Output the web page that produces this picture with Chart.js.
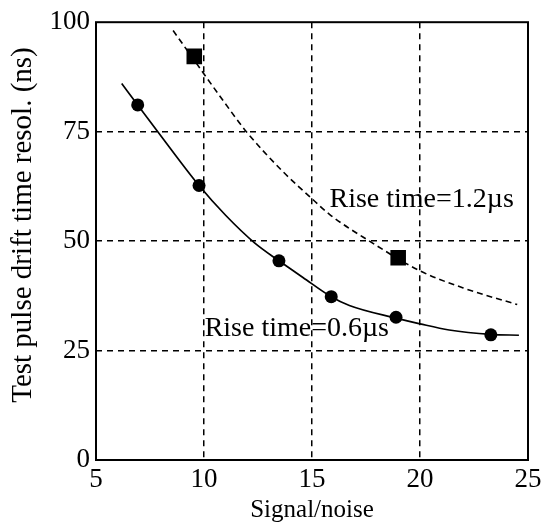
<!DOCTYPE html>
<html>
<head>
<meta charset="utf-8">
<script src="https://cdn.jsdelivr.net/npm/chart.js@4.4.0/dist/chart.umd.min.js"></script>
<style>
  html, body { margin: 0; padding: 0; background: #fff; }
  canvas { display: block; }
</style>
</head>
<body>
<canvas id="grafico" width="547" height="527"></canvas>
<script>
// medidas (S/N, resolução em ns)
const snCirculos = [6.93, 9.77, 13.47, 15.89, 18.89, 23.28];
const resCirculos = [81.1, 62.7, 45.5, 37.3, 32.6, 28.6];
const snQuadrados = [9.55, 18.99];
const resQuadrados = [92.2, 46.2];

// curvas ajustadas, lidas ponto a ponto
const snCurva06 = [6.19, 6.93, 7.86, 9.77, 11.0, 12.34, 13.47, 14.58, 15.89, 16.73, 18.89, 20.0, 21.35, 23.28, 24.58];
const resCurva06 = [86.0, 81.1, 75.0, 62.7, 55.9, 49.6, 45.5, 41.7, 37.3, 35.3, 32.4, 31.1, 29.7, 28.7, 28.5];
const snCurva12 = [8.57, 9.88, 10.9, 11.96, 13.65, 15.04, 15.81, 17.66, 20.0, 22.0, 24.5];
const resCurva12 = [98.1, 89.0, 82.0, 75.0, 65.9, 59.5, 56.1, 50.0, 43.2, 39.3, 35.5];

const ticksX = [5, 10, 15, 20, 25];
const ticksY = [0, 25, 50, 75, 100];

const rotulos = [
  { texto: "Rise time=1.2\u00b5s", x: 15.81, y: 57.9 },
  { texto: "Rise time=0.6\u00b5s", x: 10.03, y: 28.4 },
];
const tituloY = "Test pulse drift time resol. (ns)";

const pares = (xs, ys) => xs.map((x, i) => ({ x: x, y: ys[i] }));

const fonte = "'Liberation Serif', 'Times New Roman', serif";
Chart.defaults.font.family = fonte;
Chart.defaults.font.size = 27;
Chart.defaults.color = "#000";

// moldura, título do eixo y e textos dentro da área do gráfico
const moldura = {
  id: "moldura",
  afterDraw(chart) {
    const { ctx, chartArea: a, scales } = chart;
    ctx.save();
    ctx.strokeStyle = "#000";
    ctx.lineWidth = 2;
    ctx.strokeRect(a.left, a.top, a.right - a.left, a.bottom - a.top);
    ctx.fillStyle = "#000";
    ctx.font = "28px " + fonte;
    ctx.textBaseline = "alphabetic";
    ctx.textAlign = "left";
    rotulos.forEach((r) => {
      ctx.fillText(r.texto, scales.x.getPixelForValue(r.x), scales.y.getPixelForValue(r.y));
    });
    ctx.translate(23, 225);
    ctx.rotate(-Math.PI / 2);
    ctx.font = "29px " + fonte;
    ctx.textAlign = "center";
    ctx.textBaseline = "middle";
    ctx.fillText(tituloY, 0, 0);
    ctx.restore();
  },
};

const corGrade = (c) =>
  c.tick && (c.index === 0 || c.index === ticksX.length - 1) ? "rgba(0,0,0,0)" : "#000";

new Chart(document.getElementById("grafico"), {
  type: "scatter",
  data: {
    datasets: [
      {
        data: pares(snCurva06, resCurva06),
        showLine: true,
        borderColor: "#000",
        borderWidth: 1.7,
        pointRadius: 0,
        cubicInterpolationMode: "monotone",
      },
      {
        data: pares(snCurva12, resCurva12),
        showLine: true,
        borderColor: "#000",
        borderWidth: 1.6,
        borderDash: [6, 4],
        pointRadius: 0,
        cubicInterpolationMode: "monotone",
      },
      {
        data: pares(snCirculos, resCirculos),
        pointStyle: "circle",
        pointRadius: 6.5,
        backgroundColor: "#000",
        borderWidth: 0,
      },
      {
        data: pares(snQuadrados, resQuadrados),
        pointStyle: "rect",
        pointRadius: 11,
        backgroundColor: "#000",
        borderWidth: 0,
      },
    ],
  },
  options: {
    responsive: false,
    animation: false,
    layout: { padding: { top: 20, right: 19, left: 0, bottom: 0 } },
    plugins: { legend: { display: false }, tooltip: { enabled: false } },
    scales: {
      x: {
        min: 5,
        max: 25,
        afterFit: (s) => { s.height = 67; },
        afterBuildTicks: (s) => { s.ticks = ticksX.map((v) => ({ value: v })); },
        ticks: { padding: 4 },
        grid: { color: corGrade, lineWidth: 1.5, drawTicks: false },
        border: { display: false, dash: [6, 5] },
        title: { display: true, text: "Signal/noise", font: { size: 25 }, padding: { top: 0, bottom: 2 } },
      },
      y: {
        min: 0,
        max: 100,
        afterFit: (s) => { s.width = 96; },
        afterBuildTicks: (s) => { s.ticks = ticksY.map((v) => ({ value: v })); },
        ticks: { padding: 6 },
        grid: { color: corGrade, lineWidth: 1.5, drawTicks: false },
        border: { display: false, dash: [6, 5] },
      },
    },
  },
  plugins: [moldura],
});
</script>
</body>
</html>
